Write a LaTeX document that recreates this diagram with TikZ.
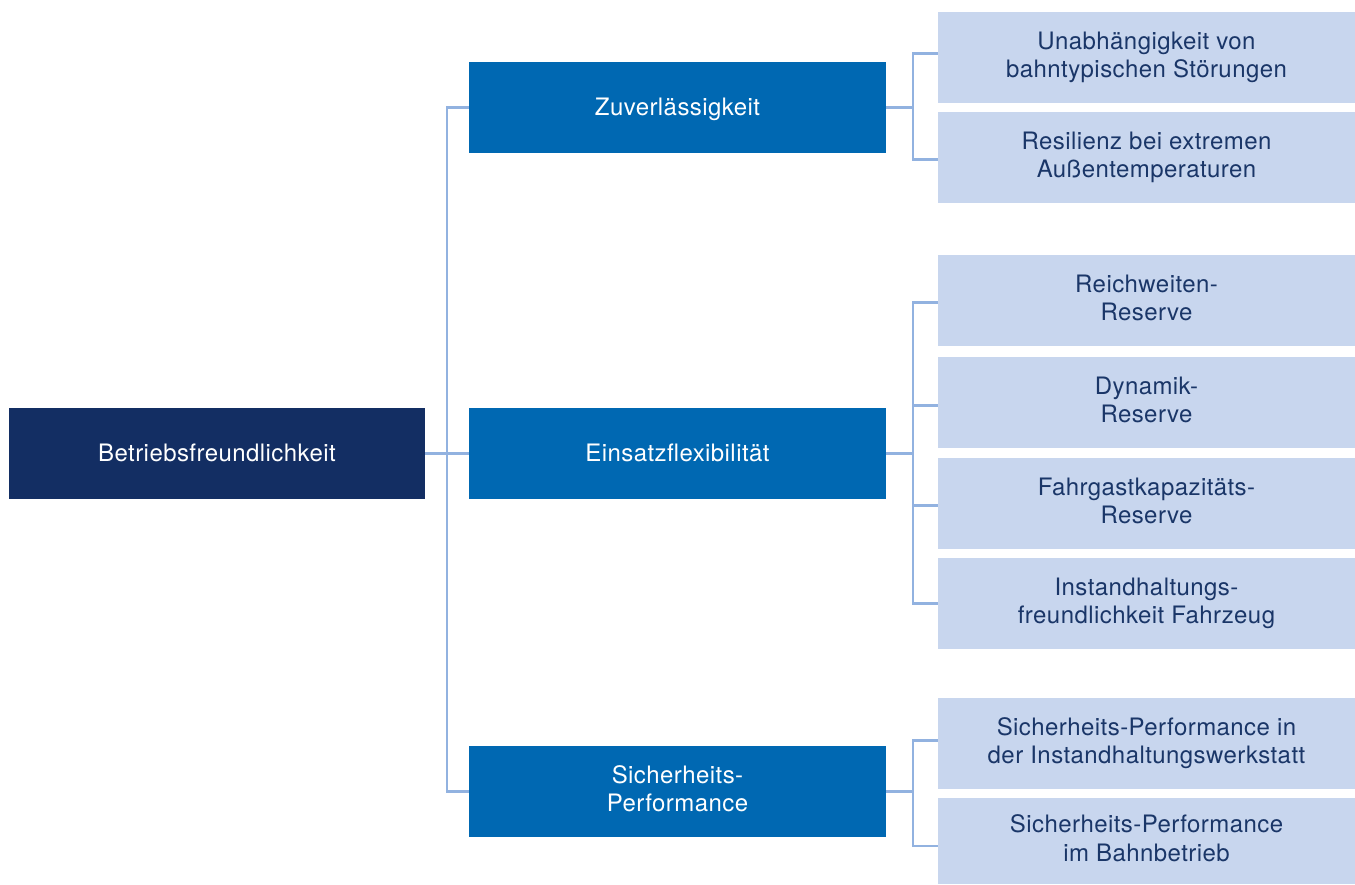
\documentclass[tikz,border=0pt]{standalone}
\usepackage{fontspec}
\setmainfont[LetterSpace=1.8]{TeX Gyre Heros}
\definecolor{navy}{HTML}{132E63}
\definecolor{midblue}{HTML}{0068B2}
\definecolor{leafblue}{HTML}{C8D6EE}
\definecolor{leaftext}{HTML}{1A3668}
\definecolor{linecol}{HTML}{92B2E0}
\begin{document}
\begin{tikzpicture}[x=1pt,y=-1pt,
  box/.style={rectangle, inner sep=0pt, minimum width=417pt, minimum height=90.7pt,
    align=center, font=\fontsize{24}{28.7}\selectfont,
    execute at begin node={\rule{0pt}{21.5pt}},
    execute at end node={\rule[-5.4pt]{0pt}{0pt}}},
  rootbox/.style={box, fill=navy, text=white, minimum width=416pt},
  midbox/.style={box, fill=midblue, text=white},
  leafbox/.style={box, fill=leafblue, text=leaftext},
  conn/.style={draw=linecol, line width=2.6pt}]
\useasboundingbox (0,0) rectangle (1355,884);

\node[rootbox] (root) at (217,453.3) {Betriebsfreundlichkeit};

\node[midbox] (m1) at (677.5,107.3) {Zuverlässigkeit};
\node[midbox] (m2) at (677.5,453.3) {Einsatzflexibilität};
\node[midbox] (m3) at (677.5,791.3) {Sicherheits-\\Performance};

\node[leafbox] (l1) at (1146.5,57.3) {Unabhängigkeit von\\bahntypischen Störungen};
\node[leafbox] (l2) at (1146.5,157.3) {Resilienz bei extremen\\Außentemperaturen};
\node[leafbox] (l3) at (1146.5,300.3) {Reichweiten-\\Reserve};
\node[leafbox] (l4) at (1146.5,402.3) {Dynamik-\\Reserve};
\node[leafbox] (l5) at (1146.5,503.3) {Fahrgastkapazitäts-\\Reserve};
\node[leafbox] (l6) at (1146.5,603.3) {Instandhaltungs-\\freundlichkeit Fahrzeug};
\node[leafbox] (l7) at (1146.5,743.3) {Sicherheits-Performance in\\der Instandhaltungswerkstatt};
\node[leafbox, minimum height=86pt] (l8) at (1146.5,841) {Sicherheits-Performance\\im Bahnbetrieb};

% root to mids
\draw[conn] (root.east) -- (m2.west);
\draw[conn] (m1.west) -| ([xshift=-22pt]m3.west) -- (m3.west);

% Zuverlaessigkeit bracket
\draw[conn] (m1.east) -- ++(27,0);
\draw[conn] ([yshift=4pt]l1.west) -- ++(-25,0) |- ([yshift=-2pt]l2.west);

% Einsatzflexibilitaet bracket
\draw[conn] (m2.east) -- ++(27,0);
\draw[conn] ([yshift=-2pt]l3.west) -- ++(-25,0) |- (l6.west);
\draw[conn] ([yshift=-3pt]l4.west) -- ++(-25,0);
\draw[conn] ([yshift=-2pt]l5.west) -- ++(-25,0);

% Sicherheits-Performance bracket
\draw[conn] (m3.east) -- ++(27,0);
\draw[conn] ([yshift=3pt]l7.west) -- ++(-25,0) |- ([yshift=-5pt]l8.west);
\end{tikzpicture}
\end{document}
